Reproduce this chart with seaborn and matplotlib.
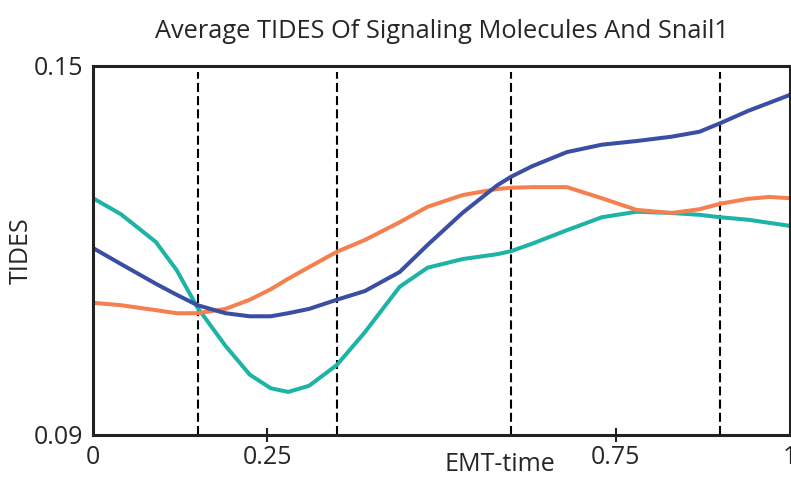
import matplotlib
matplotlib.use("Agg")
import matplotlib.pyplot as plt
import pandas as pd
import seaborn as sns

# EMT-time sample positions
emt_time = [0.00, 0.04, 0.09, 0.12, 0.15, 0.19, 0.225, 0.255, 0.28, 0.31, 0.35, 0.39, 0.44,
            0.48, 0.53, 0.58, 0.60, 0.63, 0.68, 0.73, 0.78, 0.83, 0.87, 0.90, 0.94, 0.97, 1.00]

# average TIDES per curve
tides_teal = [0.1285, 0.1259, 0.1214, 0.1168, 0.1107, 0.1045, 0.0998, 0.0976, 0.0970,
              0.0980, 0.1014, 0.1067, 0.1141, 0.1172, 0.1186, 0.1194, 0.1199, 0.1211,
              0.1233, 0.1254, 0.1263, 0.1261, 0.1258, 0.1254, 0.1250, 0.1245, 0.1240]
tides_orange = [0.1115, 0.1111, 0.1103, 0.1098, 0.1098, 0.1105, 0.1120, 0.1137, 0.1154,
                0.1173, 0.1198, 0.1217, 0.1246, 0.1271, 0.1290, 0.1300, 0.1302, 0.1303,
                0.1303, 0.1285, 0.1266, 0.1261, 0.1267, 0.1276, 0.1284, 0.1287, 0.1285]
tides_blue = [0.1204, 0.1178, 0.1146, 0.1128, 0.1111, 0.1098, 0.1093, 0.1093, 0.1098,
              0.1105, 0.1120, 0.1134, 0.1165, 0.1209, 0.1261, 0.1306, 0.1320, 0.1337,
              0.1360, 0.1372, 0.1378, 0.1385, 0.1393, 0.1407, 0.1427, 0.1440, 0.1453]

# dashed transition markers
transitions = [0.15, 0.35, 0.60, 0.90]

x_ticks = [0, 0.25, 0.75, 1]
x_tick_labels = ["0", "0.25", "0.75", "1"]
x_tick_marks = [0.25, 0.75]
y_ticks = [0.09, 0.15]
y_tick_labels = ["0.09", "0.15"]

sns.set_style("white")
plt.rcParams["font.family"] = ["Open Sans", "DejaVu Sans"]
plt.rcParams["lines.scale_dashes"] = False
plt.rcParams["lines.solid_joinstyle"] = "round"
plt.rcParams["lines.solid_capstyle"] = "round"

n = len(emt_time)
df = pd.DataFrame({
    "EMT-time": emt_time * 3,
    "TIDES": tides_teal + tides_orange + tides_blue,
    "curve": ["teal"] * n + ["orange"] * n + ["blue"] * n,
})
palette = {"teal": "#1db3a6", "orange": "#f5804f", "blue": "#3a4fa3"}

fig = plt.figure(figsize=(7.91, 4.83), dpi=100)
ax = fig.add_axes([0.1176, 0.0994, 0.8811, 0.764])

for t in transitions:
    ax.axvline(t, ymin=0, ymax=0.985, color="black", lw=1.5, linestyle=(0, (6.5, 3)), zorder=1)

sns.lineplot(data=df, x="EMT-time", y="TIDES", hue="curve", palette=palette,
             linewidth=2.9, legend=False, ax=ax, zorder=2)

ax.set_xlim(0, 1)
ax.set_ylim(0.09, 0.15)
ax.set_xticks(x_ticks)
ax.set_xticklabels(x_tick_labels, fontsize=18)
ax.set_yticks(y_ticks)
ax.set_yticklabels(y_tick_labels, fontsize=18)
ax.tick_params(axis="x", length=0, pad=7)
ax.tick_params(axis="y", length=0, pad=7)

# small crossing tick marks only at 0.25 and 0.75
# (seaborn's white style switches bottom ticks off, so turn them back on)
ax.xaxis.remove_overlapping_locs = False
ax.set_xticks(x_tick_marks, minor=True)
ax.tick_params(axis="x", which="minor", bottom=True, direction="inout", length=10,
               width=1.5, color="#222222", labelbottom=False)

for s in ax.spines.values():
    s.set_visible(True)
    s.set_linewidth(2.2)
    s.set_color("#222222")

ax.set_title("Average TIDES Of Signaling Molecules And Snail1", fontsize=18.3, pad=20)
ax.set_xlabel("EMT-time", fontsize=18)
ax.xaxis.set_label_coords(0.584, -0.045)
ax.set_ylabel("TIDES", fontsize=18)
ax.yaxis.set_label_coords(-0.085, 0.5)

fig.savefig("out.png", dpi=100)
